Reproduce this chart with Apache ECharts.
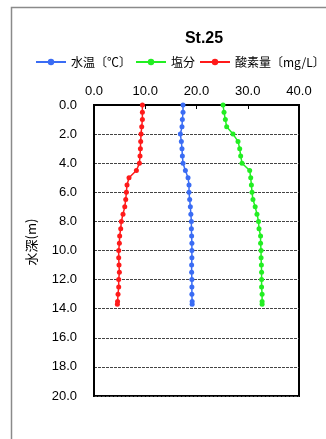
<!DOCTYPE html>
<html><head><meta charset="utf-8">
<script src="https://cdn.jsdelivr.net/npm/echarts@6/dist/echarts.min.js"></script>
<style>html,body{margin:0;padding:0;background:#fff;}#c{width:326px;height:439px;}</style>
</head><body><div id="c"></div>
<script>
const title = 'St.25';
const seriesNames = ['水温〔℃〕', '塩分', '酸素量〔mg/L〕'];
const depths = [0, 0.5, 1, 1.5, 2, 2.5, 3, 3.5, 4, 4.5, 5, 5.5, 6, 6.5, 7, 7.5, 8, 8.5, 9, 9.5, 10, 10.5, 11, 11.5, 12, 12.5, 13, 13.5, 13.7];
const temperature = [17.37, 17.37, 17.24, 17.17, 16.85, 17.04, 17.17, 17.24, 17.37, 17.83, 18.35, 18.54, 18.54, 18.67, 18.8, 18.9, 19.0, 19.0, 19.05, 19.1, 19.1, 19.1, 19.05, 19.05, 19.1, 19.1, 19.1, 19.15, 19.15];
const salinity = [25.18, 25.37, 25.63, 25.89, 27.12, 28.1, 28.43, 28.62, 28.88, 30.38, 30.58, 30.71, 30.83, 31.02, 31.45, 31.8, 32.1, 32.2, 32.5, 32.5, 32.6, 32.6, 32.66, 32.7, 32.7, 32.7, 32.8, 32.8, 32.8];
const oxygen = [9.44, 9.44, 9.44, 9.31, 9.18, 9.11, 9.05, 8.98, 8.86, 8.27, 6.83, 6.44, 6.32, 6.19, 6.0, 5.66, 5.34, 5.21, 5.01, 4.95, 4.82, 4.82, 4.88, 4.95, 4.82, 4.82, 4.69, 4.6, 4.56];
const colors = ['#3a6cf4', '#22ee22', '#ff1a1a'];
const yName = '水深(m)';

const pair = vals => vals.map((v, i) => [v, depths[i]]);
const font = '"Liberation Sans", Arial, "Noto Sans CJK JP", sans-serif';
const chart = echarts.init(document.getElementById('c'), null, {renderer: 'canvas'});
const mk = (name, vals, color) => ({
  name, type: 'line', data: pair(vals),
  symbol: 'circle', symbolSize: 5, showSymbol: true,
  lineStyle: {color, width: 1.5}, itemStyle: {color},
  emphasis: {disabled: true}, animation: false
});
chart.setOption({
  animation: false,
  textStyle: {fontFamily: font},
  title: {text: title, left: 199, textAlign: 'center', top: 26,
    textStyle: {fontSize: 16, fontWeight: 'bold', color: '#000', fontFamily: font}},
  legend: {top: 56, left: 35, padding: 0, itemWidth: 30, itemHeight: 8, itemGap: 4,
    textStyle: {fontSize: 12, color: '#000', fontFamily: '"Noto Sans CJK JP", sans-serif'},
    data: seriesNames},
  grid: {left: 94, right: 27, top: 105, bottom: 43, show: true, borderColor: '#000', borderWidth: 2, containLabel: false},
  xAxis: {type: 'value', position: 'top', min: 0, max: 40, interval: 10,
    axisLine: {show: true, lineStyle: {color: '#000', width: 2}},
    axisTick: {show: true, inside: true, length: 4, lineStyle: {color: '#000', width: 1}},
    splitLine: {show: false},
    axisLabel: {formatter: v => v.toFixed(1), fontSize: 13, color: '#000', margin: 7}},
  yAxis: {type: 'value', inverse: true, min: 0, max: 20, interval: 2,
    axisLine: {show: true, lineStyle: {color: '#000', width: 2}},
    axisTick: {show: false},
    splitLine: {show: true, lineStyle: {color: '#444', width: 1, type: [3, 1]}},
    axisLabel: {formatter: v => v.toFixed(1), fontSize: 13, color: '#000', margin: 17}},
  graphic: [
    {type: 'rect', shape: {x: 11.5, y: 7.5, width: 400, height: 500}, style: {fill: 'none', stroke: '#8a8a8a', lineWidth: 1.5}, z: -1},
    {type: 'text', x: 31, y: 242, rotation: Math.PI / 2,
      style: {text: yName, fontSize: 13, fill: '#000', align: 'center', verticalAlign: 'middle', fontFamily: '"Noto Sans CJK JP", sans-serif'}}
  ],
  series: [mk(seriesNames[0], temperature, colors[0]), mk(seriesNames[1], salinity, colors[1]), mk(seriesNames[2], oxygen, colors[2])]
});
</script></body></html>
